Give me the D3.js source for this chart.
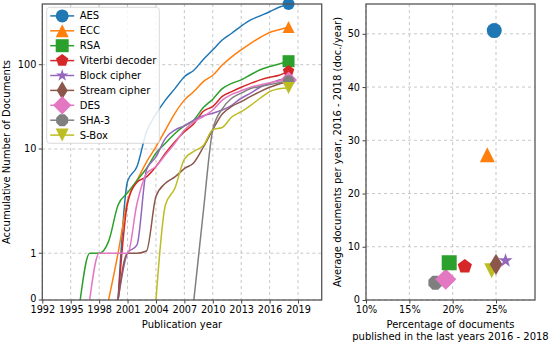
<!DOCTYPE html>
<html>
<head>
<meta charset="utf-8">
<script src="https://cdn.jsdelivr.net/npm/d3@7"></script>
<style>
  body { margin: 0; background: #fff; }
  text { font-family: "DejaVu Sans", sans-serif; fill: #000; }
</style>
</head>
<body>
<div id="chart"></div>
<script>
// years on the left chart (cumulative counts)
const years = [1995, 1996, 1997, 1998, 1999, 2000, 2001, 2002, 2003, 2004, 2005, 2006,
               2007, 2008, 2009, 2010, 2011, 2012, 2013, 2014, 2015, 2016, 2017, 2018];

const names = ["AES", "ECC", "RSA", "Viterbi decoder", "Block cipher",
               "Stream cipher", "DES", "SHA-3", "S-Box"];
const colors = ["#1f77b4", "#ff7f0e", "#2ca02c", "#d62728", "#9467bd",
                "#8c564b", "#e377c2", "#7f7f7f", "#bcbd22"];
const markers = ["circle", "triangle-up", "square", "pentagon", "star",
                 "thin-diamond", "diamond", "octagon", "triangle-down"];

const aes    = [null, null, null, null, null, 0, 4.9, 6.8, 16, 26, 38, 52, 72, 86, 115, 150, 196, 236, 287, 340, 380, 425, 480, 525];
const ecc    = [null, null, null, null, 0, 1.0, 3.2, 5.0, 7.5, 10.6, 16.8, 26.5, 38, 48, 63, 75, 99, 124, 150, 179, 210, 241, 260, 280];
const rsa    = [null, 0, 1, 1, 1.3, 2.9, 3.8, 5.0, 6.5, 9.1, 11.7, 15.3, 18.8, 22.1, 31, 39, 52, 60, 66, 76, 87, 95, 102, 110];
const viterbi= [null, null, null, null, null, 0, 3.0, 4.8, 5.4, 6.8, 9.1, 12.2, 16, 20, 28, 32, 42, 48, 54, 60, 66, 71, 75, 84];
const block  = [null, null, null, null, null, 0, 1.0, 1.2, 6.3, 8.4, 13.4, 16.8, 18.8, 22, 24.8, 26.5, 29, 33, 40, 46, 54, 60, 66, 68];
const stream = [null, null, null, null, null, 0, 1.0, 1.0, 1.05, 3.5, 4.7, 5.4, 6.5, 7.4, 10.5, 17, 26, 32, 36.4, 42, 48, 54, 59, 64];
const des    = [null, null, 0, 1, 1, 1, 1.0, 3.0, 5.8, 6.8, 8.8, 11.7, 16.8, 21, 24.2, 29, 38, 44.5, 49, 54, 57.5, 61, 64, 66];
const sha3   = [null, null, null, null, null, null, null, null, null, null, null, null, null, 0, 2.5, 17, 30, 40, 46, 52, 55, 58, 61, 64];
const sbox   = [null, null, null, null, null, null, null, null, null, 0, 2.9, 4.2, 8.0, 9.5, 11, 17, 18, 24, 27.7, 33, 40, 48, 52, 53];
const cumulative = [aes, ecc, rsa, viterbi, block, stream, des, sha3, sbox];

// right chart: share of docs in 2016-2018 (%) and average docs per year
const recentShare = [24.8, 24.0, 19.6, 21.4, 26.1, 25.0, 19.2, 18.0, 24.5];
const avgPerYear  = [50.6, 27.3, 7.0, 6.3, 7.4, 6.7, 3.9, 3.25, 5.5];

const leftXTicks = [1992, 1995, 1998, 2001, 2004, 2007, 2010, 2013, 2016, 2019];
const leftYTicks = [0, 1, 10, 100];
const rightXTicks = [10, 15, 20, 25];
const rightYTicks = [0, 10, 20, 30, 40, 50];

const W = 550, H = 343;
const svg = d3.select("#chart").append("svg")
  .attr("width", W).attr("height", H);

// matplotlib-like marker shapes, ms = marker size in px
function markerPath(type, ms) {
  const r = ms / 2;
  const poly = (n, rad, rot) => d3.range(n).map(i => {
    const a = rot + i * 2 * Math.PI / n;
    return [rad * Math.sin(a), -rad * Math.cos(a)];
  });
  const toPath = pts => "M" + pts.map(p => p[0].toFixed(2) + "," + p[1].toFixed(2)).join("L") + "Z";
  switch (type) {
    case "circle": return d3.symbol(d3.symbolCircle, Math.PI * r * r)();
    case "triangle-up": return toPath([[0, -r], [r, r], [-r, r]]);
    case "triangle-down": return toPath([[0, r], [r, -r], [-r, -r]]);
    case "square": return toPath([[-r, -r], [r, -r], [r, r], [-r, r]]);
    case "pentagon": return toPath(poly(5, r, 0));
    case "octagon": return toPath(poly(8, r, Math.PI / 8));
    case "star": {
      const pts = [];
      for (let i = 0; i < 10; i++) {
        const rad = i % 2 === 0 ? r : r * 0.381966;
        const a = i * Math.PI / 5;
        pts.push([rad * Math.sin(a), -rad * Math.cos(a)]);
      }
      return toPath(pts);
    }
    case "diamond": {
      const d = ms * Math.SQRT1_2;
      return toPath([[0, -d], [d, 0], [0, d], [-d, 0]]);
    }
    case "thin-diamond": {
      const d = ms * Math.SQRT1_2;
      return toPath([[0, -d], [d * 0.6, 0], [0, d], [-d * 0.6, 0]]);
    }
  }
}

function styleAxis(g) {
  g.select(".domain").remove();
  g.selectAll(".tick line").attr("stroke", "#444").attr("stroke-width", 1);
  g.selectAll(".tick text").style("font-size", "9.7px").attr("fill", "#000");
}

// ---------- left chart ----------
const L = {left: 42.3, top: 4, width: 279.4, height: 296};
const gL = svg.append("g").attr("transform", `translate(${L.left},${L.top})`);

const xL = d3.scaleLinear().domain([1992, 2021.5]).range([0, L.width]);
// below 1 linear, above 1 logarithmic; each stretch placed as in the figure
const gv = v => v < 1 ? v - 1 : Math.log10(v);
const yStretch = d3.scaleLinear()
  .domain([-1, 0, 1, 2, 2.72])
  .range([L.height, L.height * (1 - 0.158), L.height * (1 - 0.51), L.height * (1 - 0.795), 0]);
const yL = v => yStretch(gv(v));

const gridL = gL.append("g").attr("stroke", "#b9b9b9").attr("stroke-width", 0.8).attr("stroke-dasharray", "3,3");
gridL.selectAll("line.gx").data(leftXTicks).join("line")
  .attr("x1", d => xL(d)).attr("x2", d => xL(d)).attr("y1", 0).attr("y2", L.height);
gridL.selectAll("line.gy").data(leftYTicks).join("line")
  .attr("x1", 0).attr("x2", L.width).attr("y1", d => yL(d)).attr("y2", d => yL(d));

gL.append("g").attr("transform", `translate(0,${L.height})`)
  .call(d3.axisBottom(xL).tickValues(leftXTicks).tickFormat(d3.format("d")).tickSize(3.5).tickPadding(3))
  .call(styleAxis);
const yTickG = gL.append("g").selectAll("g").data(leftYTicks).join("g")
  .attr("transform", d => `translate(0,${yL(d)})`);
yTickG.append("line").attr("x1", -3.5).attr("x2", 0).attr("stroke", "#444");
yTickG.append("text").attr("x", -6).attr("dy", d => d === 0 ? "0.25em" : "0.34em").attr("text-anchor", "end")
  .style("font-size", "9.7px").text(d => d);

gL.append("defs").append("clipPath").attr("id", "clipL")
  .append("rect").attr("width", L.width).attr("height", L.height);

const line = d3.line()
  .defined(d => d[1] != null)
  .x(d => xL(d[0])).y(d => yL(d[1]))
  .curve(d3.curveMonotoneX);

const linesG = gL.append("g").attr("clip-path", "url(#clipL)");
cumulative.forEach((vals, i) => {
  const pts = years.map((yr, j) => [yr, vals[j]]);
  linesG.append("path").datum(pts)
    .attr("fill", "none").attr("stroke", colors[i]).attr("stroke-width", 1.5)
    .attr("d", line);
});
const endG = gL.append("g");
cumulative.forEach((vals, i) => {
  const last = years.length - 1;
  endG.append("path")
    .attr("transform", `translate(${xL(years[last])},${yL(vals[last])})`)
    .attr("d", markerPath(markers[i], 12))
    .attr("fill", colors[i]);
});

gL.append("rect").attr("width", L.width).attr("height", L.height)
  .attr("fill", "none").attr("stroke", "#555").attr("stroke-width", 1.3);

// legend
const leg = gL.append("g").attr("transform", "translate(4.4,3.3)");
leg.append("rect").attr("width", 112.6).attr("height", 136).attr("rx", 3)
  .attr("fill", "#fff").attr("fill-opacity", 0.85).attr("stroke", "#d0d0d0").attr("stroke-width", 0.8);
names.forEach((n, i) => {
  const row = leg.append("g").attr("transform", `translate(0,${8.6 + i * 14.9})`);
  row.append("line").attr("x1", 3.5).attr("x2", 27.5).attr("stroke", colors[i]).attr("stroke-width", 1.5);
  row.append("path").attr("transform", "translate(15.5,0)")
    .attr("d", markerPath(markers[i], 13)).attr("fill", colors[i]);
  row.append("text").attr("x", 33).attr("dy", "0.35em").style("font-size", "10px").text(n);
});

svg.append("text").attr("x", L.left + L.width / 2).attr("y", 328)
  .attr("text-anchor", "middle").style("font-size", "10px").text("Publication year");
svg.append("text").attr("transform", `translate(10,${L.top + L.height / 2}) rotate(-90)`)
  .attr("text-anchor", "middle").style("font-size", "10px").text("Accumulative Number of Documents");

// ---------- right chart ----------
const R = {left: 366, top: 4, width: 169, height: 296};
const gR = svg.append("g").attr("transform", `translate(${R.left},${R.top})`);
const xR = d3.scaleLinear().domain([10, 29.5]).range([0, R.width]);
const yR = d3.scaleLinear().domain([0, 55.6]).range([R.height, 0]);

const gridR = gR.append("g").attr("stroke", "#b9b9b9").attr("stroke-width", 0.8).attr("stroke-dasharray", "3,3");
gridR.selectAll("line.gx").data(rightXTicks).join("line")
  .attr("x1", d => xR(d)).attr("x2", d => xR(d)).attr("y1", 0).attr("y2", R.height);
gridR.selectAll("line.gy").data(rightYTicks).join("line")
  .attr("x1", 0).attr("x2", R.width).attr("y1", d => yR(d)).attr("y2", d => yR(d));

gR.append("g").attr("transform", `translate(0,${R.height})`)
  .call(d3.axisBottom(xR).tickValues(rightXTicks).tickFormat(d => d + "%").tickSize(3.5).tickPadding(3))
  .call(styleAxis);
gR.append("g")
  .call(d3.axisLeft(yR).tickValues(rightYTicks).tickSize(3.5).tickPadding(2.5))
  .call(styleAxis)
  .call(g => g.selectAll(".tick text").filter(d => d === 0).attr("dy", "0.25em"));

const order = d3.range(names.length).reverse();
gR.append("g").selectAll("path").data(order).join("path")
  .attr("transform", i => `translate(${xR(recentShare[i])},${yR(avgPerYear[i])})`)
  .attr("d", i => markerPath(markers[i], 15))
  .attr("fill", i => colors[i]);

gR.append("rect").attr("width", R.width).attr("height", R.height)
  .attr("fill", "none").attr("stroke", "#555").attr("stroke-width", 1.3);

svg.append("text").attr("x", R.left + R.width / 2).attr("y", 328)
  .attr("text-anchor", "middle").style("font-size", "10px").text("Percentage of documents");
svg.append("text").attr("x", R.left + R.width / 2).attr("y", 340)
  .attr("text-anchor", "middle").style("font-size", "10px").text("published in the last years 2016 - 2018");
svg.append("text").attr("transform", `translate(341,${R.top + R.height / 2}) rotate(-90)`)
  .attr("text-anchor", "middle").style("font-size", "10px")
  .text("Average documents per year, 2016 - 2018 (doc./year)");
</script>
</body>
</html>
